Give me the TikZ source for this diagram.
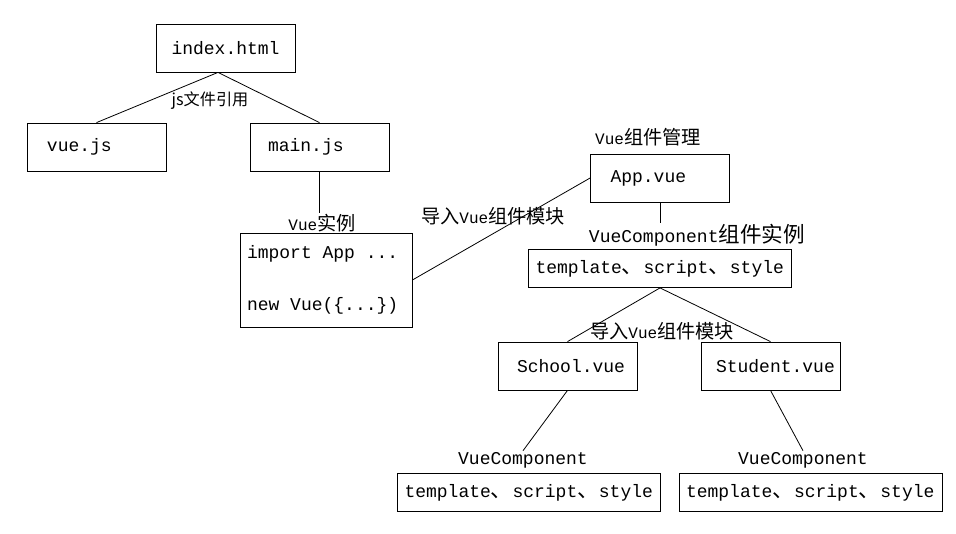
\documentclass[tikz,border=0pt]{standalone}
\usepackage{fontspec}
\setmainfont{Liberation Serif}
\newfontfamily\mono{Liberation Mono}
\newfontfamily\cjk[Scale=1.2]{Noto Sans CJK SC}
\newcommand{\zh}[1]{{\cjk #1}}
\usetikzlibrary{positioning}

\begin{document}
\begin{tikzpicture}[
    x=1pt, y=-1pt, line width=0.8pt,
    file/.style={draw, minimum height=48pt, text width=139pt, inner xsep=0pt,
        align=left, execute at begin node={\hspace*{#1}},
        font=\mono\fontsize{18}{21.6}\selectfont},
    file/.default=18pt,
    part/.style={draw, minimum height=38pt, text width=249pt, inner xsep=7pt,
        align=left, font=\mono\fontsize{18}{21.6}\selectfont},
    note/.style={inner sep=1pt, font=\mono\fontsize{16}{19}\selectfont},
    monote/.style={inner sep=1pt, font=\mono\fontsize{18}{21.6}\selectfont}
]
\useasboundingbox (0,0) rectangle (956,533);

% 1. HTML AND SCRIPTS
\node[file=15pt] (index) at (226,48) {index.html};
\node[file=20pt] (vuejs) at (96.5,147) {vue.js};
\node[file] (mainjs) at (319.5,147) {main.js};
\node[inner sep=1pt, font=\cjk\fontsize{13.5}{16}\selectfont] (ref) at (210,101) {js文件引用};

\draw ([xshift=-8pt]index.south) -- (vuejs.north);
\draw ([xshift=-8pt]index.south) -- (mainjs.north);

% 2. VUE INSTANCE
\node[note] (inst) at (322,223) {Vue\zh{实例}};
\node[draw, minimum height=94pt, text width=158pt, inner xsep=7pt, align=left,
    execute at begin node={\spaceskip=0.6em\relax},
    font=\mono\fontsize{18}{21.6}\selectfont] (code) at (326,280)
    {import App ...\\[31pt]new Vue(\{...\})};

\draw (mainjs.south) -- (mainjs.south |- inst.north);

% 3. APP COMPONENT
\node[note] (mgr) at (648,137) {Vue\zh{组件管理}};
\node[file=20pt] (app) at (660,178) {App.vue};
\node[note] (imp) at (493,216) {\zh{导入}Vue\zh{组件模块}};
\node[monote] (compinst) at (697,235) {VueComponent\zh{组件实例}};
\node[part] (comp) at (660,268.5) {template\zh{、}script\zh{、}style};

\draw (code.east) -- (app.west);
\draw (app.south) -- (app.south |- compinst.north);

% 4. CHILD COMPONENTS
\node[note] (impB) at (662,331) {\zh{导入}Vue\zh{组件模块}};
\node[file=19pt] (school) at (567.5,366) {School.vue};
\node[file=15pt] (student) at (770.5,366) {Student.vue};

\node[monote] (vcA) at (523,460) {VueComponent};
\node[monote] (vcB) at (803,460) {VueComponent};
\node[part] (compA) at (529,492.5) {template\zh{、}script\zh{、}style};
\node[part] (compB) at (810.5,492.5) {template\zh{、}script\zh{、}style};

\draw (comp.south) -- (school.north);
\draw (comp.south) -- (student.north);
\draw (school.south) -- (vcA.north);
\draw (student.south) -- (vcB.north);
\end{tikzpicture}
\end{document}
